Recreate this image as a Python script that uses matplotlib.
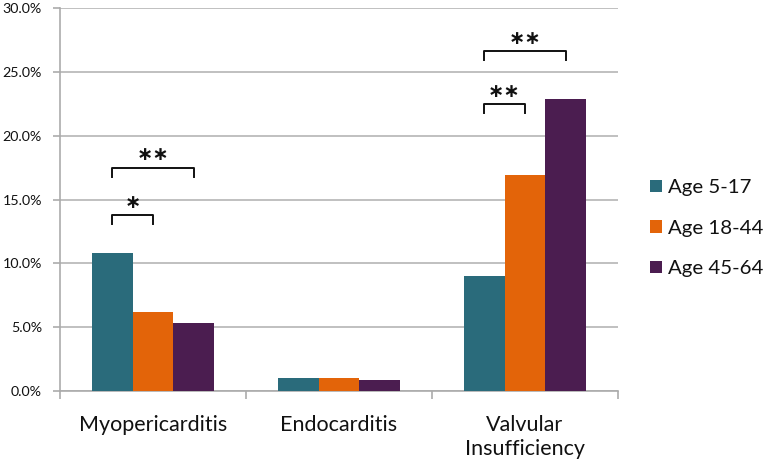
import matplotlib
matplotlib.use("Agg")
import matplotlib.pyplot as plt
import numpy as np
from matplotlib.ticker import FuncFormatter, MultipleLocator

plt.rcParams['font.family'] = ['Lato', 'DejaVu Sans']

categories = ["Myopericarditis", "Endocarditis", "Valvular\nInsufficiency"]
series = ["Age 5-17", "Age 18-44", "Age 45-64"]
age_5_17 = [10.8, 1.0, 9.0]
age_18_44 = [6.2, 1.0, 16.9]
age_45_64 = [5.3, 0.9, 22.9]
colors = ["#2A6B7B", "#E36409", "#4B1D50"]

# significance brackets: (category, series index a, series index b, bracket top y, label)
brackets = [
    (0, 0, 1, 13.8, "*"),
    (0, 0, 2, 17.5, "**"),
    (2, 0, 1, 22.5, "**"),
    (2, 0, 2, 26.6, "**"),
]

fig = plt.figure(figsize=(7.68, 4.65), dpi=100)
ax = fig.add_axes([60/768, 1-391/465, 558/768, 383/465])

x = np.arange(len(categories))
w = 0.22
values = [age_5_17, age_18_44, age_45_64]
for i, (vals, name, c) in enumerate(zip(values, series, colors)):
    ax.bar(x + (i-1)*w, vals, width=w, color=c, label=name, zorder=3)

ax.set_xlim(-0.5, 2.5)
ax.set_ylim(0, 30)
ax.yaxis.set_major_locator(MultipleLocator(5))
ax.yaxis.set_major_formatter(FuncFormatter(lambda v, p: f"{v:.1f}%"))
ax.grid(axis='y', color='#B5B5B5', linewidth=1.2, zorder=0)
for s in ['top', 'right']:
    ax.spines[s].set_visible(False)
for s in ['left', 'bottom']:
    ax.spines[s].set_color('#ABABAB')
    ax.spines[s].set_linewidth(1.2)
ax.tick_params(axis='y', length=5, width=1.2, color='#ABABAB', labelsize=10.3, pad=8, labelcolor='#111111')
ax.set_xticks(x)
ax.set_xticklabels(categories, fontsize=15.5, color='#111111')
ax.tick_params(axis='x', length=0, pad=17)
ax.set_xticks([-0.5, 0.5, 1.5, 2.5], minor=True)
ax.tick_params(axis='x', which='minor', length=6, width=1.2, color='#ABABAB')
for lbl in ax.get_xticklabels():
    lbl.set_linespacing(1.3)

dh = 0.7
for cat, a, b, ytop, lab in brackets:
    xa = cat + (a-1)*w
    xb = cat + (b-1)*w
    ax.plot([xa, xa, xb, xb], [ytop-dh, ytop, ytop, ytop-dh], color='#111111', lw=1.4, zorder=4, clip_on=False)
    ax.text((xa+xb)/2, ytop+0.25, lab.replace("*", "\u2217"), ha='center', va='bottom', fontsize=14,
            fontweight='bold', family='DejaVu Sans', color='#111111', zorder=4)

fig.legend(loc='upper left', bbox_to_anchor=(642/768, 1-171/465), frameon=False,
           fontsize=14.7, handlelength=0.59, handleheight=0.59, handletextpad=0.3,
           labelspacing=1.15, borderaxespad=0, labelcolor='#111111')

fig.savefig("out.png", dpi=100)
